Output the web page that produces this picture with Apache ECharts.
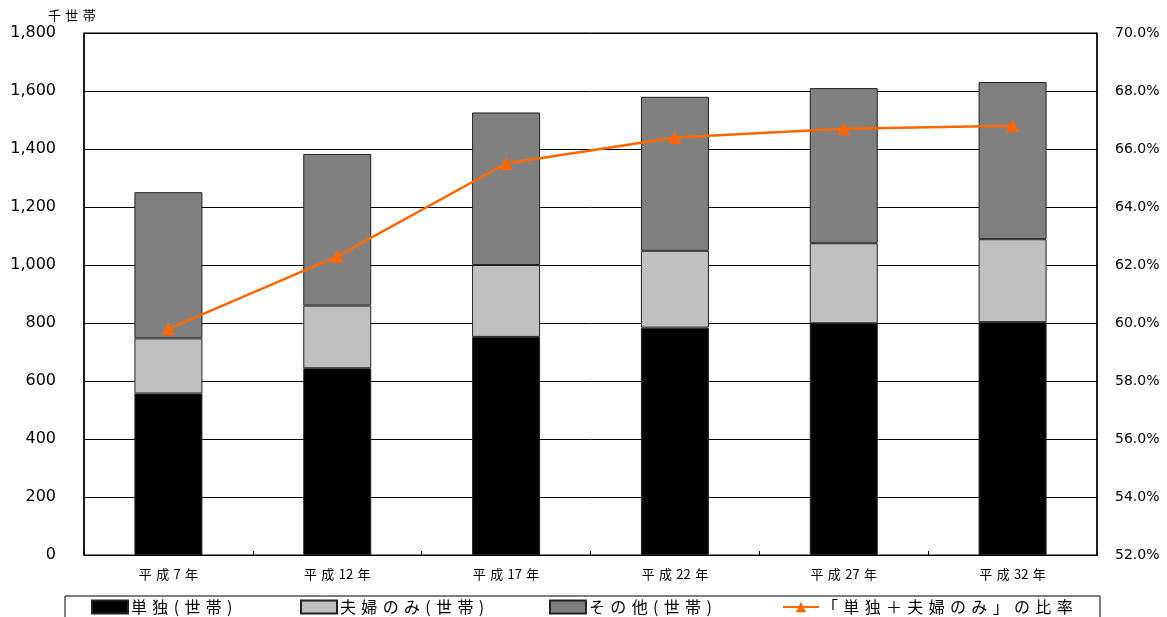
<!DOCTYPE html>
<html>
<head>
<meta charset="utf-8">
<script src="https://cdn.jsdelivr.net/npm/echarts@6/dist/echarts.min.js"></script>
<style>
  html, body { margin: 0; padding: 0; background: #fff; }
  #chart { width: 1167px; height: 617px; }
</style>
</head>
<body>
<div id="chart"></div>
<script>
const years = ['平成7年', '平成12年', '平成17年', '平成22年', '平成27年', '平成32年']
const single = [557, 644, 752, 784, 799, 803]      // 単独
const couple = [190, 216, 248, 265, 276, 286]      // 夫婦のみ
const other = [504, 523, 526, 531, 535, 542]       // その他
const ratio = [59.8, 62.3, 65.5, 66.4, 66.7, 66.8] // 「単独＋夫婦のみ」の比率

const names = ['単独(世帯)', '夫婦のみ(世帯)', 'その他(世帯)', '「単独＋夫婦のみ」の比率']
const font = '"Noto Sans CJK JP", "DejaVu Sans", sans-serif'
const numFont = '"DejaVu Sans", sans-serif'

// 原図は字間が広いので、文字の間に細いスペースを入れる（数字どうしは詰める）
const spread = s => s.split('').reduce((out, c, i, arr) => {
  if (i === 0) return c
  const tight = /\d/.test(c) && /\d/.test(arr[i - 1])
  return out + (tight ? '' : '\u2004') + c
}, '')

const chart = echarts.init(document.getElementById('chart'), null, { renderer: 'canvas' })

const legendBase = {
  top: 599,
  icon: 'rect',
  itemWidth: 36,
  itemHeight: 13,
  itemGap: 0,
  padding: 0,
  formatter: spread,
  textStyle: { fontFamily: font, fontSize: 16, color: '#000', padding: [0, 0, 0, -2] }
}

const barStyle = color => ({ color: color, borderColor: '#222', borderWidth: 1 })

const option = {
  animation: false,
  grid: { left: 84, right: 70, top: 33, bottom: 62, show: true, borderColor: '#000', borderWidth: 1 },
  graphic: [
    { type: 'rect', shape: { x: 65, y: 596, width: 1035, height: 40 }, style: { fill: 'none', stroke: '#000', lineWidth: 1 }, silent: true },
    { type: 'text', left: 48, top: 9, style: { text: spread('千世帯'), font: '13px ' + font, fill: '#000' } }
  ],
  legend: [
    Object.assign({ left: 91, data: [names[0]] }, legendBase),
    Object.assign({ left: 300, data: [names[1]] }, legendBase),
    Object.assign({ left: 549, data: [names[2]] }, legendBase),
    Object.assign({ left: 782, data: [names[3]] }, legendBase, { icon: null })
  ],
  xAxis: {
    type: 'category',
    data: years,
    axisLine: { lineStyle: { color: '#000', width: 1 } },
    axisTick: { show: true, inside: true, length: 4, lineStyle: { color: '#000' } },
    axisLabel: { color: '#000', fontFamily: font, fontSize: 13, margin: 13, formatter: spread }
  },
  yAxis: [{
    type: 'value',
    min: 0,
    max: 1800,
    interval: 200,
    axisLine: { show: true, lineStyle: { color: '#000', width: 1.5 } },
    axisTick: { show: false },
    splitLine: { lineStyle: { color: '#000', width: 1 } },
    axisLabel: {
      color: '#000', fontFamily: numFont, fontSize: 16, margin: 28,
      formatter: v => v.toLocaleString('en-US')
    }
  }, {
    type: 'value',
    min: 52,
    max: 70,
    interval: 2,
    position: 'right',
    axisLine: { show: true, lineStyle: { color: '#000', width: 1.5 } },
    axisTick: { show: true, inside: true, length: 5, lineStyle: { color: '#000' } },
    splitLine: { show: false },
    axisLabel: {
      color: '#000', fontFamily: numFont, fontSize: 14, margin: 18,
      formatter: v => v.toFixed(1) + '%'
    }
  }],
  series: [{
    name: names[0],
    type: 'bar',
    stack: 'total',
    barWidth: 68,
    data: single,
    itemStyle: barStyle('#000000')
  }, {
    name: names[1],
    type: 'bar',
    stack: 'total',
    data: couple,
    itemStyle: barStyle('#c0c0c0')
  }, {
    name: names[2],
    type: 'bar',
    stack: 'total',
    data: other,
    itemStyle: barStyle('#808080')
  }, {
    name: names[3],
    type: 'line',
    yAxisIndex: 1,
    data: ratio,
    symbol: 'triangle',
    symbolSize: 13,
    color: '#ff6600',
    lineStyle: { color: '#ff6600', width: 2.5 },
    itemStyle: { color: '#ff6600' },
    z: 5
  }]
}

chart.setOption(option)
</script>
</body>
</html>
